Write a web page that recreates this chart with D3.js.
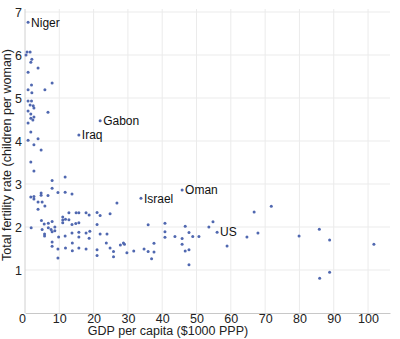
<!DOCTYPE html>
<html><head><meta charset="utf-8">
<script src="https://cdn.jsdelivr.net/npm/d3@7"></script>
<style>
body{margin:0;background:#fff;}
svg{display:block;font-family:"Liberation Sans",Arial,sans-serif;}
</style></head>
<body><svg id="c" width="400" height="339"></svg>
<script>
const gdp = [0.9,0.6,1.5,0.3,2.0,1.7,3.8,0.9,7.9,1.9,5.8,0.9,2.0,0.9,1.9,1.5,2.4,2.6,0.9,6.7,1.7,1.7,2.6,2.3,0.9,1.7,0.9,3.8,2.6,4.7,1.7,2.6,7.9,11.7,7.9,1.7,2.6,2.6,4.7,4.7,3.8,5.0,6.7,9.6,11.7,13.7,3.8,5.8,21.9,15.7,
1.8,4.8,5.0,5.6,5.7,5.7,6.8,6.8,7.9,7.6,7.9,8.7,8.7,9.8,7.9,7.9,9.6,9.6,11.0,11.0,11.0,11.8,12.8,12.8,13.7,13.7,13.8,13.8,11.8,11.7,14.8,15.7,14.9,15.7,15.7,15.7,15.7,17.8,18.7,17.8,18.9,18.7,17.8,21.0,21.9,21.0,21.9,23.9,21.0,21.0,23.7,24.8,26.8,24.8,25.8,25.8,27.8,28.7,29.0,29.7,31.7,34.7,35.9,37.6,37.6,36.9,35.9,33.8,
40.8,40.8,40.8,43.7,45.8,45.8,46.7,47.8,48.9,50.7,46.7,47.8,47.8,53.6,54.8,45.8,56.0,58.9,64.7,66.8,67.9,71.8,79.9,85.8,88.8,101.7,88.8,85.9];
const tfr = [6.76,6.07,6.07,6.0,5.9,5.83,5.7,5.6,5.35,5.3,5.19,5.19,5.12,4.93,4.93,4.84,4.82,4.77,4.7,4.67,4.63,4.53,4.56,4.49,4.42,4.21,4.02,4.05,3.91,3.79,3.51,3.3,3.08,3.16,2.9,2.7,2.71,2.65,2.79,2.74,2.58,2.58,2.73,2.8,2.81,2.77,2.41,2.49,4.47,4.14,
1.98,2.15,1.94,2.07,1.84,1.79,1.98,2.09,2.13,1.94,1.89,2.0,1.91,1.77,1.65,1.55,1.49,1.28,2.23,2.16,2.1,2.18,2.17,2.33,2.06,1.86,1.63,1.45,1.51,1.79,2.08,2.1,2.33,2.33,1.88,1.77,1.51,2.33,2.28,1.86,1.9,1.74,1.49,2.34,2.27,2.06,1.84,1.84,1.47,1.34,1.63,2.31,2.56,1.51,1.43,1.31,1.58,1.63,1.6,1.4,1.44,1.49,1.43,1.62,1.42,1.26,2.05,2.67,
2.09,1.89,1.76,1.78,1.73,1.6,2.02,1.87,1.78,1.78,1.44,1.47,1.12,2.0,2.12,2.86,1.88,1.56,1.77,2.35,1.86,2.48,1.79,1.95,1.70,1.6,0.95,0.81];
const labelNames = ["Niger","Gabon","Iraq","Israel","Oman","US"];
const labelGdp = [0.9,21.9,15.7,33.8,45.8,56.0];
const labelTfr = [6.76,4.47,4.14,2.67,2.86,1.88];
const xTicks = [0,10,20,30,40,50,60,70,80,90,100];
const yTicks = [1,2,3,4,5,6,7];

const svg = d3.select("#c");
const x = d3.scaleLinear().domain([0,106.4]).range([25,390]);
const y = d3.scaleLinear().domain([0,7]).range([313,12]);
const FF = "Liberation Sans, Arial, sans-serif";
const FS = 12.5;

// gridlines
svg.append("g").selectAll("line").data(xTicks.filter(d=>d>0)).join("line")
  .attr("x1",d=>x(d)).attr("x2",d=>x(d)).attr("y1",9).attr("y2",313)
  .attr("stroke","#ebebeb").attr("stroke-width",1);
svg.append("g").selectAll("line").data(yTicks).join("line")
  .attr("x1",25).attr("x2",390).attr("y1",d=>y(d)).attr("y2",d=>y(d))
  .attr("stroke","#ebebeb").attr("stroke-width",1);

// axes
const gx = svg.append("g").attr("transform","translate(0,313)")
  .call(d3.axisBottom(x).tickValues(xTicks).tickFormat(d3.format("d")).tickSize(0).tickPadding(1.5));
gx.select(".domain").attr("stroke","#c8c8c8");
gx.selectAll("text").attr("font-size",FS).attr("fill","#222").attr("font-family",FF)
  .attr("dx",d=>d===0?-3:0);
const gy = svg.append("g").attr("transform","translate(25,0)")
  .call(d3.axisLeft(y).tickValues(yTicks).tickFormat(d3.format("d")).tickSize(0).tickPadding(3));
gy.select(".domain").attr("stroke","#d0d0d0").attr("d","M0,9V313");
gy.selectAll("text").attr("font-size",FS).attr("fill","#222").attr("font-family",FF);

// titles
svg.append("text").attr("x",168).attr("y",335).attr("text-anchor","middle")
  .attr("font-size",FS).attr("fill","#222").text("GDP per capita ($1000 PPP)");
svg.append("text").attr("transform","translate(10.5,155) rotate(-90)")
  .attr("text-anchor","middle").attr("font-size",FS).attr("fill","#222")
  .text("Total fertility rate (children per woman)");

// points
svg.append("g").selectAll("circle").data(gdp.map((g,i)=>[g,tfr[i]])).join("circle")
  .attr("cx",d=>x(d[0])).attr("cy",d=>y(d[1])).attr("r",1.5)
  .attr("fill","#5068b0");

// labels
svg.append("g").selectAll("text").data(labelNames).join("text")
  .attr("x",(d,i)=>x(labelGdp[i])+3).attr("y",(d,i)=>y(labelTfr[i]))
  .attr("dy","0.36em").attr("font-size",12).attr("fill","#111").text(d=>d);
</script></body></html>
